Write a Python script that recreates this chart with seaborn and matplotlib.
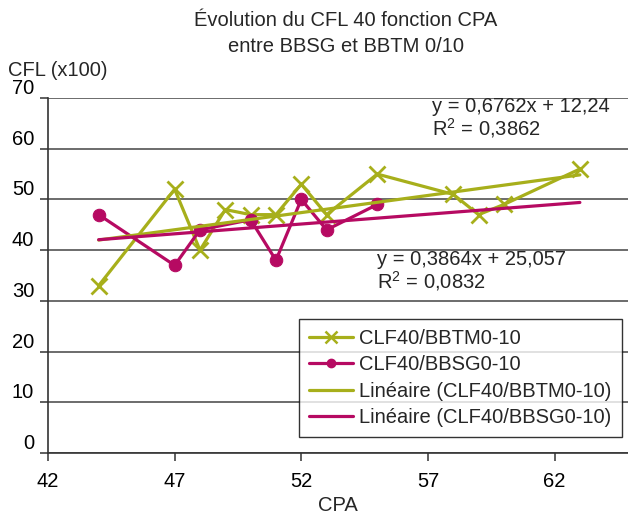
import matplotlib
matplotlib.use("Agg")
import matplotlib.pyplot as plt
import seaborn as sns
import pandas as pd
from matplotlib.lines import Line2D

# data
cpa_bbtm = [44, 47, 48, 49, 50, 51, 52, 53, 55, 58, 59, 60, 63]
cfl_bbtm = [33, 52, 40, 48, 47, 47, 53, 47, 55, 51, 47, 49, 56]
cpa_bbsg = [44, 47, 48, 50, 51, 52, 53, 55]
cfl_bbsg = [47, 37, 44, 46, 38, 50, 44, 49]

# trend line coefficients as printed on the chart
slope_bbtm, icpt_bbtm = 0.6762, 12.24
slope_bbsg, icpt_bbsg = 0.3864, 25.057
trend_x = [44, 63]

green = "#A7AF1B"
magenta = "#B60A62"

sns.set_theme(style="white")
plt.rcParams["font.family"] = ["Liberation Sans", "DejaVu Sans"]
plt.rcParams["mathtext.fontset"] = "custom"
plt.rcParams["mathtext.rm"] = "Liberation Sans"
plt.rcParams["mathtext.it"] = "Liberation Sans"
plt.rcParams["mathtext.bf"] = "Liberation Sans"

fs = 14.5

fig = plt.figure(figsize=(6.28, 5.19), dpi=100)
ax = fig.add_axes([48 / 628, 66 / 519, 1 - 48 / 628, 355 / 519])

df_t = pd.DataFrame({"x": cpa_bbtm, "y": cfl_bbtm})
df_s = pd.DataFrame({"x": cpa_bbsg, "y": cfl_bbsg})
tr_t = pd.DataFrame({"x": trend_x, "y": [slope_bbtm * v + icpt_bbtm for v in trend_x]})
tr_s = pd.DataFrame({"x": trend_x, "y": [slope_bbsg * v + icpt_bbsg for v in trend_x]})

sns.lineplot(data=df_t, x="x", y="y", ax=ax, color=green, lw=2.3, marker="x",
             markersize=12, markeredgewidth=2.0, markeredgecolor=green, sort=False, zorder=3)
sns.lineplot(data=df_s, x="x", y="y", ax=ax, color=magenta, lw=2.3, marker="o",
             markersize=9, markeredgecolor=magenta, sort=False, zorder=4)
sns.lineplot(data=tr_t, x="x", y="y", ax=ax, color=green, lw=2.3, zorder=5)
sns.lineplot(data=tr_s, x="x", y="y", ax=ax, color=magenta, lw=2.3, zorder=5)

ax.set_xlim(42, 64.9)
ax.set_ylim(0, 70)
ax.set_xticks([42, 47, 52, 57, 62])
ax.set_yticks(range(0, 71, 10))
ax.yaxis.grid(True, color="#444444", lw=1.1)
ax.set_axisbelow(True)
for s in ["top", "right"]:
    ax.spines[s].set_visible(False)
for s in ["left", "bottom"]:
    ax.spines[s].set_color("#333333")
    ax.spines[s].set_linewidth(1.2)
ax.tick_params(axis="both", direction="out", length=6, width=1.1, color="#333333",
               labelsize=fs, labelcolor="black", left=True, bottom=True)
ax.tick_params(axis="y", pad=4)
ax.tick_params(axis="x", pad=8)
for lab in ax.get_yticklabels():
    lab.set_verticalalignment("bottom")
ax.set_xlabel("CPA", fontsize=fs, labelpad=3)
ax.set_ylabel("")

ax.text(57.15, 70.2, "y = 0,6762x + 12,24\nR$^{2}$ = 0,3862", fontsize=fs,
        va="top", ha="left", linespacing=1.0)
ax.text(55.0, 40.0, "y = 0,3864x + 25,057\nR$^{2}$ = 0,0832", fontsize=fs,
        va="top", ha="left", linespacing=1.0)

fig.text(8 / 628, 1 - 70 / 519, "CFL (x100)", fontsize=fs, va="center", ha="left")
fig.text(346 / 628, 1 - 20 / 519, "Évolution du CFL 40 fonction CPA", fontsize=fs,
         va="center", ha="center")
fig.text(346 / 628, 1 - 47 / 519, "entre BBSG et BBTM 0/10", fontsize=fs,
         va="center", ha="center")

handles = [
    Line2D([], [], color=green, lw=2.3, marker="x", markersize=8, markeredgewidth=1.8),
    Line2D([], [], color=magenta, lw=2.3, marker="o", markersize=6),
    Line2D([], [], color=green, lw=2.3),
    Line2D([], [], color=magenta, lw=2.3),
]
labels = ["CLF40/BBTM0-10", "CLF40/BBSG0-10",
          "Linéaire (CLF40/BBTM0-10)", "Linéaire (CLF40/BBSG0-10)"]
leg = fig.legend(handles, labels, loc="lower left", bbox_to_anchor=(299 / 628, 82 / 519),
                 fontsize=fs, frameon=True, fancybox=False, handlelength=2.2,
                 handletextpad=0.3, labelspacing=0.36, borderpad=0.5, borderaxespad=0)
leg.get_frame().set_edgecolor("black")
leg.get_frame().set_linewidth(1.0)

fig.savefig("out.png", dpi=100)
